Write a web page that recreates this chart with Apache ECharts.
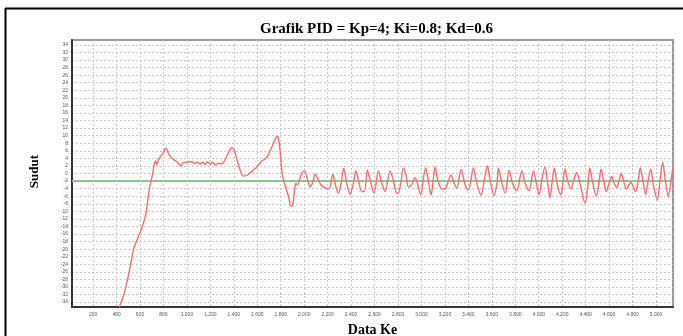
<!DOCTYPE html>
<html>
<head>
<meta charset="utf-8">
<script src="https://cdn.jsdelivr.net/npm/echarts@6/dist/echarts.min.js"></script>
<style>html,body{margin:0;padding:0;background:#fff;}#c{width:683px;height:336px;}</style>
</head>
<body>
<div id="c"></div>
<script>
const titleText = 'Grafik PID = Kp=4; Ki=0.8; Kd=0.6';
const xAxisName = 'Data Ke';
const yAxisName = 'Sudut';
const yTicks = [-34,-32,-30,-28,-26,-24,-22,-20,-18,-16,-14,-12,-10,-8,-6,-4,-2,0,2,4,6,8,10,12,14,16,18,20,22,24,26,28,30,32,34];
const xTicks = [200,400,600,800,1000,1200,1400,1600,1800,2000,2200,2400,2600,2800,3000,3200,3400,3600,3800,4000,4200,4400,4600,4800,5000];
const setpoint = -2;
const dataX = [425,473,516,544,573,615,652,666,686,706,723,735,743,763,795,820,843,871,914,948,970,999,1042,1070,1090,1113,1136,1155,1175,1198,1221,1240,1269,1298,1326,1354,1383,1402,1425,1454,1482,1516,1567,1610,1638,1681,1709,1738,1766,1780,1795,1814,1837,1866,1888,1903,1917,1928,1942,1960,1980,2002,2022,2050,2070,2093,2113,2142,2178,2212,2244,2270,2292,2315,2337,2363,2391,2419,2440,2462,2491,2513,2539,2562,2596,2633,2662,2690,2732,2761,2789,2803,2826,2846,2869,2888,2917,2945,2965,2994,3016,3036,3059,3082,3099,3116,3139,3173,3207,3230,3252,3275,3301,3338,3372,3400,3443,3472,3508,3537,3562,3585,3619,3643,3657,3680,3714,3748,3776,3813,3856,3884,3918,3954,3983,4003,4025,4054,4076,4096,4116,4133,4156,4188,4205,4224,4247,4275,4298,4324,4352,4395,4417,4435,4457,4491,4514,4531,4554,4577,4599,4622,4644,4665,4685,4704,4724,4747,4770,4787,4806,4827,4849,4866,4889,4912,4934,4955,4977,5011,5034,5057,5077,5105,5128,5147];
const dataY = [-35.3,-30.8,-24.7,-20.2,-17.6,-14.5,-10.5,-7.0,-3.0,-0.4,2.7,3.3,2.4,4.0,5.3,6.7,5.3,4.0,3.1,2.1,2.9,3.0,3.1,2.7,3.0,2.5,3.0,2.4,3.1,2.5,3.0,2.2,2.7,2.5,3.7,5.5,6.8,6.3,3.9,0.9,-0.7,-0.4,0.9,2.2,3.3,4.2,6.0,8.0,9.7,9.5,5.8,-0.4,-3.0,-6.1,-8.6,-8.3,-4.8,-2.6,-3.0,-1.7,0.05,0.7,-0.8,-3.5,-2.6,-0.2,-1.2,-2.9,-3.8,-4.0,-0.2,-3.5,-5.2,-2.6,1.4,-2.6,-5.5,-2.6,0.7,-1.7,-4.8,-4.8,0.9,-1.7,-5.2,0.7,-2.6,-4.8,0.7,-1.9,-5.2,-5.2,-1.9,1.5,-0.4,-3.5,-3.0,-1.1,-2.6,-5.7,-1.2,1.5,-1.9,-5.7,-1.9,1.7,-1.7,-4.1,-3.9,-1.9,-0.4,-2.3,-3.9,1.1,-3.0,-4.4,1.5,-2.6,-5.7,-1.7,2.0,-1.7,-5.9,-2.6,1.5,-1.9,-5.2,0.9,-2.6,-4.6,0.7,-2.6,-4.6,0.7,-3.0,-5.7,-1.9,1.7,-2.6,-6.4,-1.9,1.5,-2.6,-5.7,-2.6,1.2,-1.9,-4.1,-1.9,0.2,-2.6,-7.9,-3.9,1.5,-1.9,-6.0,-2.6,1.2,-1.9,-4.8,-2.6,-0.8,-2.6,-3.7,-1.9,0.0,-1.9,-4.1,-3.0,-2.3,-3.5,-4.8,-1.7,1.5,-1.9,-5.5,-1.9,1.2,-3.0,-7.0,-1.9,3.0,-1.2,-6.1,-1.9,2.5];
const xMin = 20, xMax = 5145, yMin = -35.3, yMax = 35.3;

const lineData = dataX.map((x, i) => [x, dataY[i]]);
const spData = [[xMin, setpoint], [xMax, setpoint]];

const chart = echarts.init(document.getElementById('c'), null, {renderer: 'canvas'});
chart.setOption({
  animation: false,
  backgroundColor: '#fff',
  title: {
    text: titleText, left: 255, top: 17,
    textStyle: {fontFamily: 'Liberation Serif', fontWeight: 'bold', fontSize: 15, color: '#000'}
  },
  graphic: [
    {type: 'line', shape: {x1: 5, y1: 8.5, x2: 683, y2: 8.5}, style: {stroke: '#000', lineWidth: 2}},
    {type: 'line', shape: {x1: 5.5, y1: 8, x2: 5.5, y2: 336}, style: {stroke: '#000', lineWidth: 2}},
    {type: 'text', left: 28, top: 155, rotation: Math.PI/2, style: {text: yAxisName, font: 'bold 13px "Liberation Serif"', fill: '#000'}}
  ],
  grid: {left: 72, right: 10, top: 40, bottom: 29, outerBoundsMode: 'none', containLabel: false, show: true, borderColor: '#9a9a9a', borderWidth: 2, backgroundColor: '#fff'},
  xAxis: {
    type: 'value', min: xMin, max: xMax,
    name: xAxisName, nameLocation: 'middle', nameGap: 16,
    nameTextStyle: {fontFamily: 'Liberation Serif', fontWeight: 'bold', fontSize: 14, color: '#000'},
    axisLine: {show: true, onZero: false, lineStyle: {color: '#333', width: 2}},
    axisTick: {show: false, customValues: xTicks},
    axisLabel: {customValues: xTicks, fontSize: 5, color: '#555', margin: 5, fontFamily: 'Liberation Sans',
      formatter: v => String(v).replace(/\B(?=(\d{3})+(?!\d))/g, '.')},
    splitLine: {show: true, lineStyle: {color: '#c8c8c8', type: [2, 2], width: 1}}
  },
  yAxis: {
    type: 'value', min: yMin, max: yMax,
    axisLine: {show: true, onZero: false, lineStyle: {color: '#333', width: 2}},
    axisTick: {show: false, customValues: yTicks},
    axisLabel: {customValues: yTicks, fontSize: 5, color: '#555', margin: 4, fontFamily: 'Liberation Sans'},
    splitLine: {show: true, lineStyle: {color: '#c8c8c8', type: [2, 2], width: 1}}
  },
  series: [
    {type: 'line', data: spData, symbol: 'none', lineStyle: {color: '#8cc48c', width: 2}, z: 2},
    {type: 'line', data: lineData, symbol: 'none', smooth: 0.3, lineStyle: {color: '#ff6a6a', width: 1.4}, z: 3}
  ]
});
</script>
</body>
</html>
